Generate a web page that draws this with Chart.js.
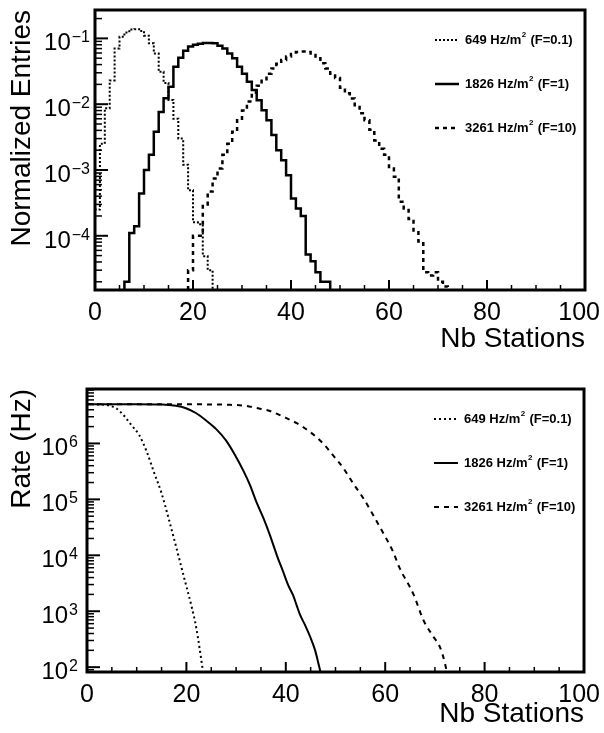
<!DOCTYPE html>
<html>
<head>
<meta charset="utf-8">
<script src="https://cdn.jsdelivr.net/npm/chart.js@4.4.1/dist/chart.umd.min.js"></script>
<style>
  html, body { margin: 0; padding: 0; background: #fff; }
  #top { position: absolute; left: 0; top: 0; width: 604px; height: 360px; }
  #bottom { position: absolute; left: 0; top: 360px; width: 604px; height: 373px; }
</style>
</head>
<body>
<div id="top"><canvas id="entriesChart"></canvas></div>
<div id="bottom"><canvas id="rateChart"></canvas></div>
<script>
// legend text
const seriesRates = ['649', '1826', '3261'];
const seriesF = ['0.1', '1', '10'];

// x axis labels (Nb Stations)
const stationTicks = [0, 20, 40, 60, 80, 100];
// decades that get a 10^n label
const entryDecades = [-1, -2, -3, -4];
const rateDecades = [2, 3, 4, 5, 6];

// top panel: normalized entries per 1-station bin, first bin given separately
const firstBinF01 = 0;
const entriesF01 = [2.5e-4, 2.5e-3, 8.7e-3, 0.023, 0.070, 0.106, 0.123, 0.137, 0.138, 0.129,
  0.110, 0.084, 0.059, 0.031, 0.021, 0.0116, 0.006, 0.003, 1.2e-3, 4.9e-4,
  1.6e-4, 1.5e-4, 4.9e-5, 3.0e-5];

const firstBinF1 = 6;
const entriesF1 = [2.0e-5, 1.1e-4, 1.4e-4, 4.4e-4, 1.0e-3, 1.7e-3, 3.8e-3, 7.6e-3, 0.0123, 0.0184,
  0.037, 0.051, 0.065, 0.075, 0.080, 0.083, 0.085, 0.085, 0.084, 0.077,
  0.070, 0.059, 0.050, 0.037, 0.029, 0.022, 0.0164, 0.0115, 0.0081, 0.0057,
  0.0034, 0.0020, 0.0014, 8.3e-4, 3.7e-4, 2.6e-4, 2.0e-4, 5.2e-5, 4.1e-5, 2.8e-5,
  2.0e-5, 2.0e-5];

const firstBinF10 = 19;
const entriesF10 = [3.0e-5, 1.0e-4, 1.0e-4, 3.0e-4, 4.7e-4, 7.4e-4, 1.05e-3, 1.7e-3, 2.5e-3, 3.8e-3,
  5.7e-3, 8.0e-3, 0.011, 0.015, 0.019, 0.024, 0.029, 0.035, 0.041, 0.047,
  0.053, 0.058, 0.062, 0.063, 0.062, 0.056, 0.050, 0.042, 0.035, 0.029,
  0.025, 0.0178, 0.0146, 0.0122, 0.0091, 0.0073, 0.0057, 0.0041, 0.0028, 0.0021,
  0.0017, 1.05e-3, 7.9e-4, 3.3e-4, 2.6e-4, 1.8e-4, 1.2e-4, 8.2e-5, 2.8e-5, 2.5e-5,
  2.8e-5, 2.0e-5, 1.7e-5];

// bottom panel: trigger rate vs station threshold
const stationsF01 = [0, 3, 4.5, 6, 7.5, 9, 10.5, 12, 13.5, 15, 16.5, 18, 19.5, 21, 22, 23.3];
const rateF01 = [5.0e6, 4.95e6, 4.73e6, 4.17e6, 3.09e6, 2.09e6, 1.41e6, 7.2e5, 3.0e5, 1.29e5,
  4.3e4, 1.35e4, 4.1e3, 1.26e3, 5.0e2, 89];

const stationsF1 = [0, 10, 15, 17.9, 19.9, 21.9, 23.9, 26, 28, 29.6, 31.5, 32.8, 34.1, 35.5,
  36.8, 38.2, 39.5, 40.5, 41.5, 42.2, 42.9, 43.9, 44.9, 45.9, 46.5, 47.0];
const rateF1 = [5.0e6, 5.0e6, 4.95e6, 4.7e6, 4.25e6, 3.5e6, 2.6e6, 1.8e6, 1.12e6, 6.6e5,
  3.2e5, 1.8e5, 8.9e4, 4.6e4, 2.3e4, 1.0e4, 5.0e3, 2.9e3, 1.9e3, 1.26e3,
  8.5e2, 5.6e2, 3.5e2, 2.0e2, 1.23e2, 81];

const stationsF10 = [0, 20, 28.8, 31.5, 34.1, 36.8, 39.5, 42.2, 44.9, 47.5, 49.6, 51.6, 53.6,
  55.6, 57.6, 59.6, 61.6, 62.8, 65.7, 67.7, 69.7, 71.0, 72.0, 72.4];
const rateF10 = [5.0e6, 5.0e6, 4.9e6, 4.75e6, 4.3e6, 3.8e6, 3.0e6, 2.3e6, 1.6e6, 1.0e6,
  6.0e5, 3.6e5, 1.9e5, 1.05e5, 5.2e4, 2.5e4, 1.15e4, 6.2e3, 2.0e3, 6.9e2,
  3.5e2, 2.3e2, 1.2e2, 82];

const entriesMin = 1.5e-5, entriesMax = 0.27;
const rateMin = 82, rateMax = 9.4e6;

const FONT = '"Liberation Sans", Arial, Helvetica, sans-serif';
Chart.defaults.font.family = FONT;
Chart.defaults.color = '#000';

// bin contents -> outline of a step histogram
function histPoints(start, entries, floor) {
  var pts = [{x: start, y: floor}];
  entries.forEach((v, i) => {
    pts.push({x: start + i, y: v});
    pts.push({x: start + i + 1, y: v});
  });
  pts.push({x: start + entries.length, y: floor});
  return pts;
}

function curvePoints(xs, ys) {
  return xs.map((x, i) => ({x: x, y: ys[i]}));
}

// ROOT-like frame: inward ticks, 10^n labels, thick box, legend inside
const rootFrame = {
  id: 'rootFrame',
  afterDraw(chart, args, opts) {
    const ctx = chart.ctx;
    const area = chart.chartArea;
    const xs = chart.scales.x;
    const ys = chart.scales.y;
    ctx.save();
    ctx.strokeStyle = '#000';
    ctx.fillStyle = '#000';

    for (let v = xs.min; v <= xs.max; v += 5) {
      const px = xs.getPixelForValue(v);
      const major = stationTicks.includes(v);
      ctx.lineWidth = major ? 2 : 1.5;
      ctx.beginPath();
      ctx.moveTo(px, area.bottom);
      ctx.lineTo(px, area.bottom - (major ? 10 : 5));
      ctx.stroke();
    }
    ctx.font = '25px ' + FONT;
    ctx.textAlign = 'center';
    ctx.textBaseline = 'alphabetic';
    stationTicks.forEach(v => {
      const txt = String(v);
      const w = ctx.measureText(txt).width;
      let px = xs.getPixelForValue(v);
      px = Math.min(px, chart.width - w / 2 - 4);
      ctx.fillText(txt, px, area.bottom + 30);
    });

    const e0 = Math.floor(Math.log10(ys.min));
    const e1 = Math.ceil(Math.log10(ys.max));
    for (let e = e0; e <= e1; e++) {
      for (let k = 1; k < 10; k++) {
        const v = k * Math.pow(10, e);
        if (v < ys.min || v > ys.max) continue;
        const py = ys.getPixelForValue(v);
        ctx.lineWidth = k === 1 ? 2 : 1.5;
        ctx.beginPath();
        ctx.moveTo(area.left, py);
        ctx.lineTo(area.left + (k === 1 ? 13 : 7), py);
        ctx.stroke();
      }
    }

    ctx.textAlign = 'left';
    opts.decades.forEach(e => {
      const py = ys.getPixelForValue(Math.pow(10, e));
      const sup = e < 0 ? '\u2212' + (-e) : String(e);
      ctx.font = '24px ' + FONT;
      const wBase = ctx.measureText('10').width;
      ctx.font = '16px ' + FONT;
      const wSup = ctx.measureText(sup).width;
      const x0 = area.left - opts.labelGap - wBase - wSup - 1;
      ctx.font = '24px ' + FONT;
      ctx.fillText('10', x0, py + 12);
      ctx.font = '16px ' + FONT;
      ctx.fillText(sup, x0 + wBase + 1, py + 4);
    });

    ctx.lineWidth = 3;
    ctx.strokeRect(area.left, area.top, area.right - area.left, area.bottom - area.top);

    // legend
    chart.data.datasets.forEach((ds, i) => {
      const ly = area.top + 30 + i * 44;
      ctx.save();
      ctx.lineWidth = ds.borderWidth;
      ctx.setLineDash(ds.borderDash || []);
      ctx.beginPath();
      ctx.moveTo(area.right - 150, ly);
      ctx.lineTo(area.right - 126, ly);
      ctx.stroke();
      ctx.restore();

      ctx.textBaseline = 'middle';
      let tx = area.right - 120;
      const head = seriesRates[i] + ' Hz/m';
      ctx.font = 'bold 13px ' + FONT;
      ctx.fillText(head, tx, ly);
      tx += ctx.measureText(head).width;
      ctx.font = 'bold 8px ' + FONT;
      ctx.fillText('2', tx + 0.5, ly - 5);
      tx += ctx.measureText('2').width + 1;
      ctx.font = 'bold 13px ' + FONT;
      ctx.fillText(' (F=' + seriesF[i] + ')', tx, ly);
    });
    ctx.restore();
  }
};

function makeOptions(cfg) {
  return {
    responsive: true,
    maintainAspectRatio: false,
    animation: false,
    devicePixelRatio: 1,
    layout: { padding: { top: cfg.padTop, right: cfg.padRight, left: 0, bottom: 0 } },
    plugins: {
      legend: { display: false },
      tooltip: { enabled: false },
      rootFrame: { decades: cfg.decades, labelGap: cfg.labelGap }
    },
    elements: { point: { radius: 0 } },
    scales: {
      x: {
        type: 'linear',
        min: 0,
        max: 100,
        grid: { display: false },
        border: { display: false },
        ticks: { display: false },
        title: {
          display: true, text: 'Nb Stations', align: 'end',
          font: { size: 28 }, padding: { top: 0, bottom: cfg.xTitlePad }
        },
        afterFit: (scale) => { scale.height = cfg.xHeight; }
      },
      y: {
        type: 'logarithmic',
        min: cfg.yMin,
        max: cfg.yMax,
        grid: { display: false },
        border: { display: false },
        ticks: { display: false },
        title: {
          display: true, text: cfg.yTitle, align: 'end',
          font: { size: 28 }, padding: { top: 5, bottom: 0 }
        },
        afterFit: (scale) => { scale.width = cfg.yWidth; }
      }
    }
  };
}

const entriesChart = new Chart(document.getElementById('entriesChart'), {
  type: 'line',
  data: {
    datasets: [
      { label: '649 Hz/m² (F=0.1)', data: histPoints(firstBinF01, entriesF01, entriesMin),
        borderColor: '#000', borderWidth: 2, borderDash: [2, 2], tension: 0 },
      { label: '1826 Hz/m² (F=1)', data: histPoints(firstBinF1, entriesF1, entriesMin),
        borderColor: '#000', borderWidth: 2.5, tension: 0 },
      { label: '3261 Hz/m² (F=10)', data: histPoints(firstBinF10, entriesF10, entriesMin),
        borderColor: '#000', borderWidth: 2.5, borderDash: [4, 4], tension: 0 }
    ]
  },
  options: makeOptions({
    padTop: 10, padRight: 19, xHeight: 70, yWidth: 95, xTitlePad: 4,
    yMin: entriesMin, yMax: entriesMax, yTitle: 'Normalized Entries',
    decades: entryDecades, labelGap: 5
  }),
  plugins: [rootFrame]
});

const rateChart = new Chart(document.getElementById('rateChart'), {
  type: 'line',
  data: {
    datasets: [
      { label: '649 Hz/m² (F=0.1)', data: curvePoints(stationsF01, rateF01),
        borderColor: '#000', borderWidth: 2, borderDash: [2, 3], cubicInterpolationMode: 'monotone' },
      { label: '1826 Hz/m² (F=1)', data: curvePoints(stationsF1, rateF1),
        borderColor: '#000', borderWidth: 2, cubicInterpolationMode: 'monotone' },
      { label: '3261 Hz/m² (F=10)', data: curvePoints(stationsF10, rateF10),
        borderColor: '#000', borderWidth: 2, borderDash: [5, 5], cubicInterpolationMode: 'monotone' }
    ]
  },
  options: makeOptions({
    padTop: 29, padRight: 20, xHeight: 61, yWidth: 87, xTitlePad: 2,
    yMin: rateMin, yMax: rateMax, yTitle: 'Rate (Hz)',
    decades: rateDecades, labelGap: 9
  }),
  plugins: [rootFrame]
});
</script>
</body>
</html>
